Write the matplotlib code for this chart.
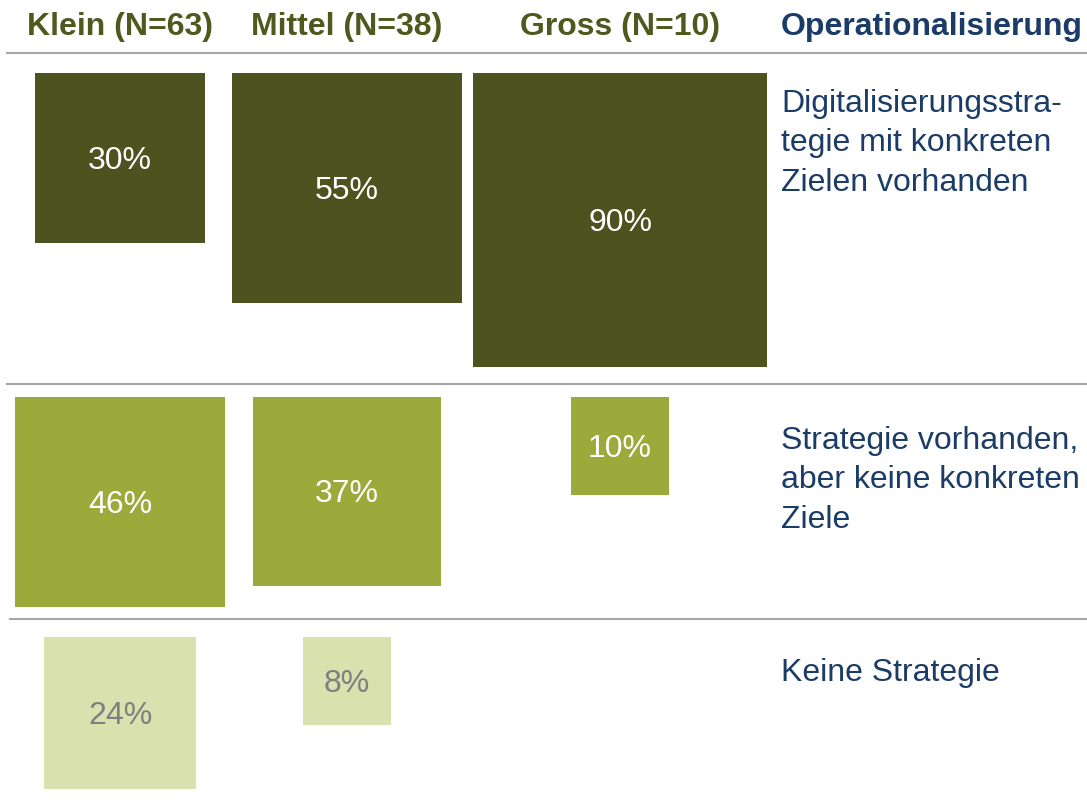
import numpy as np
import matplotlib.pyplot as plt
from matplotlib.patches import Rectangle

plt.rcParams['font.family'] = ['Liberation Sans', 'DejaVu Sans']

# Daten
groups = ['Klein (N=63)', 'Mittel (N=38)', 'Gross (N=10)']
categories = ['Digitalisierungsstra-\ntegie mit konkreten\nZielen vorhanden',
              'Strategie vorhanden,\naber keine konkreten\nZiele',
              'Keine Strategie']
klein = [30, 46, 24]
mittel = [55, 37, 8]
gross = [90, 10, 0]

# Layout (Pixel)
col_x = [120, 347, 620]
row_top = [73, 397, 637]
scale = 31.0  # Kantenlaenge = scale * sqrt(p)

fill = ['#4c531e', '#9baa3a', '#d9e2ae']
txt_col = ['white', 'white', '#7f7f7f']
olive = '#4d5a1e'
navy = '#1b3c66'

fig = plt.figure(figsize=(10.87, 8.04), dpi=100)
ax = fig.add_axes([0, 0, 1, 1])
ax.set_xlim(0, 1087)
ax.set_ylim(803, -1)
ax.axis('off')

values = np.array([klein, mittel, gross])
for c in range(3):
    for r in range(3):
        p = values[c, r]
        if p <= 0:
            continue
        s = scale * np.sqrt(p)
        ax.add_patch(Rectangle((col_x[c] - s / 2, row_top[r]), s, s,
                               facecolor=fill[r], edgecolor='none'))
        ax.text(col_x[c], row_top[r] + s / 2 + 2, f'{p}%', ha='center', va='center',
                fontsize=23, color=txt_col[r])

# Kopfzeile
for c, g in enumerate(groups):
    ax.text(col_x[c], 26, g, ha='center', va='center', fontsize=23,
            fontweight='bold', color=olive)
ax.text(781, 26, 'Operationalisierung', ha='left', va='center', fontsize=23,
        fontweight='bold', color=navy)

# Trennlinien
ax.plot([7, 1087], [53, 53], color='#a6a6a6', lw=1.5)
ax.plot([7, 1087], [384, 384], color='#a6a6a6', lw=1.5)
ax.plot([10, 1087], [619, 619], color='#a6a6a6', lw=1.5)

# Beschriftung rechts
label_top = [88, 425, 657]
for r, lab in enumerate(categories):
    ax.text(781, label_top[r], lab, ha='left', va='top', fontsize=23,
            color=navy, linespacing=1.41)

fig.savefig('out.png', dpi=100)
